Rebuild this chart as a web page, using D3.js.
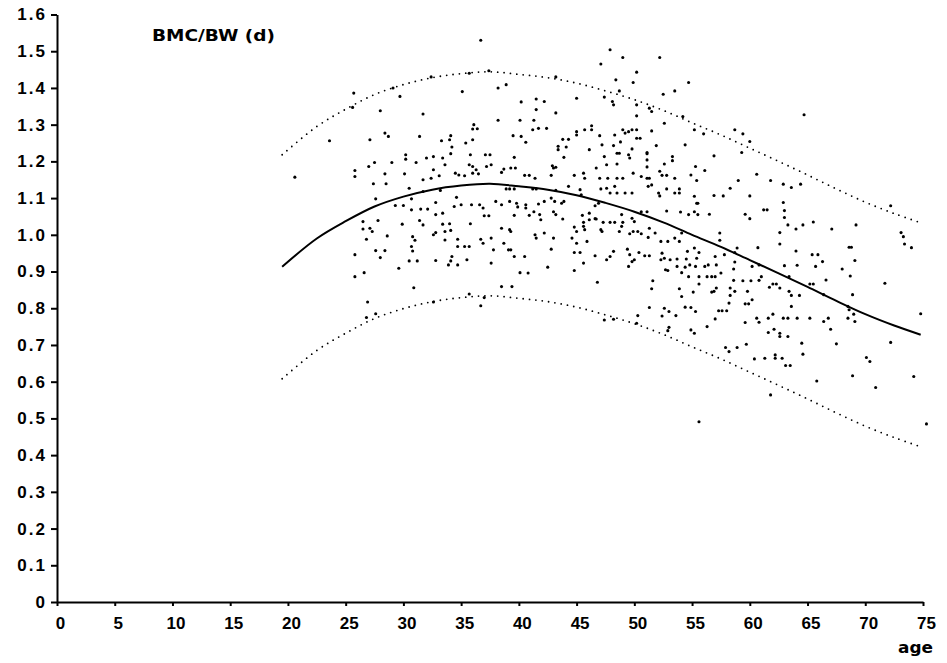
<!DOCTYPE html>
<html lang="en">
<head>
  <meta charset="UTF-8" />
  <title>BMC/BW by age</title>
  <script src="https://d3js.org/d3.v7.min.js"></script>
  <style>
    body {
      margin: 0;
      padding: 0;
      background: #fff;
    }
    svg {
      display: block;
      font-family: "DejaVu Sans", Arial, sans-serif;
      font-weight: bold;
    }
    .axis path, .axis line {
      stroke: #000;
      stroke-width: 2;
    }
    .axis text {
      fill: #000;
      font-size: 17px;
      font-weight: bold;
    }
  </style>
</head>
<body>
  <svg width="947" height="663"></svg>

  <script>
    // mean curve
    const curveAge = [19.5, 22.5, 25, 27.5, 30, 32.5, 35, 37.5, 40, 42.5, 45, 47.5, 50, 52.5, 55, 57.5, 60, 62.5, 65, 67.5, 70, 72.5, 74.8];
    const curveMean = [0.913, 0.99, 1.037, 1.077, 1.104, 1.123, 1.134, 1.139, 1.132, 1.123, 1.108, 1.087, 1.063, 1.034, 1.0, 0.967, 0.931, 0.895, 0.858, 0.82, 0.784, 0.753, 0.728];
    // dotted limits above / below the mean
    const curveUpper = [1.218, 1.295, 1.342, 1.382, 1.409, 1.428, 1.439, 1.444, 1.437, 1.428, 1.413, 1.392, 1.368, 1.339, 1.305, 1.272, 1.236, 1.2, 1.163, 1.125, 1.089, 1.058, 1.033];
    const curveLower = [0.608, 0.685, 0.732, 0.772, 0.799, 0.818, 0.829, 0.834, 0.827, 0.818, 0.803, 0.782, 0.758, 0.729, 0.695, 0.662, 0.626, 0.59, 0.553, 0.515, 0.479, 0.448, 0.423];

    const xTicks = d3.range(0, 76, 5);
    const yTicks = [0, 0.1, 0.2, 0.3, 0.4, 0.5, 0.6, 0.7, 0.8, 0.9, 1.0, 1.1, 1.2, 1.3, 1.4, 1.5, 1.6];

    // [age, BMC/BW]
    const points = [
      [36.7,1.53],[37.4,1.447],[35.7,1.44],[32.4,1.43],[29.1,1.40],[25.7,1.386],[35.1,1.39],[29.7,1.377],[25.6,1.347],[28.0,1.338],[31.7,1.329],
      [36.1,1.30],[36.4,1.289],[36.0,1.288],[23.6,1.256],[27.1,1.259],[28.4,1.277],[28.7,1.268],[31.4,1.268],[33.3,1.256],[34.0,1.259],[34.1,1.27],[35.4,1.25],[36.0,1.259],[34.2,1.239],[20.6,1.157],
      [30.2,1.218],[30.2,1.206],[31.1,1.197],[32.0,1.209],[32.6,1.213],[33.4,1.209],[34.1,1.221],[35.8,1.218],[37.1,1.218],[37.5,1.218],[27.0,1.186],[27.5,1.197],[25.8,1.175],[25.8,1.159],[29.0,1.197],[28.4,1.166],[30.1,1.166],[32.6,1.177],[33.6,1.191],
      [34.5,1.168],[34.8,1.163],[35.3,1.161],[36.0,1.168],[36.3,1.177],[36.5,1.166],[35.7,1.191],[36.0,1.186],[37.2,1.186],[37.6,1.191],
      [27.4,1.139],[28.5,1.139],[30.5,1.127],[31.7,1.150],[32.4,1.154],[33.1,1.161],[31.7,1.118],[27.6,1.098],[29.3,1.080],[30.0,1.080],[30.7,1.098],[32.8,1.088],[33.2,1.121],[34.6,1.102],
      [35.0,1.082],[35.9,1.082],[36.6,1.082],[36.9,1.073],[30.7,1.068],[31.5,1.070],[32.1,1.070],[33.4,1.059],[32.8,1.055],[34.4,1.077],[37.0,1.052],[37.4,1.052],
      [26.5,1.036],[26.5,1.016],[27.1,1.018],[27.3,1.009],[27.8,1.039],[29.9,1.029],[31.4,1.039],[31.7,1.027],[33.4,1.029],[34.0,1.030],[35.8,1.030],[26.8,0.988],[28.6,0.997],[30.8,0.995],[31.0,0.985],
      [32.6,1.000],[32.8,1.006],[33.6,1.009],[34.1,1.012],[33.6,0.986],[34.7,0.988],[34.7,0.968],[35.3,0.968],[35.7,0.968],[36.7,0.988],[36.9,0.977],[37.6,0.991],[37.8,0.959],
      [27.6,0.957],[28.4,0.957],[28.0,0.938],[25.8,0.946],[30.7,0.968],[30.8,0.956],[30.5,0.929],[31.2,0.929],[32.8,0.930],[34.2,0.941],[34.1,0.929],[33.9,0.918],[34.7,0.918],[35.5,0.932],[26.6,0.897],[29.6,0.909],[37.6,0.923],
      [25.8,0.886],[30.9,0.856],[26.9,0.817],[27.6,0.785],[26.8,0.775],[32.6,0.817],[35.7,0.839],[36.7,0.807],[37.0,0.829],
      [47.9,1.504],[49.0,1.483],[52.2,1.483],[47.1,1.465],[50.2,1.443],[43.2,1.430],[48.4,1.422],[49.9,1.415],[54.7,1.415],[38.2,1.400],[38.9,1.409],[48.7,1.392],[53.5,1.392],[52.5,1.383],[45.0,1.372],[47.4,1.375],[48.1,1.363],[48.2,1.354],[40.2,1.362],[41.5,1.370],[42.2,1.363],[41.5,1.341],[43.2,1.332],[50.2,1.354],[51.3,1.345],[51.5,1.336],[50.2,1.324],
      [38.2,1.312],[40.1,1.312],[41.3,1.312],[52.6,1.304],[54.2,1.322],[41.2,1.286],[41.7,1.290],[42.4,1.290],[45.0,1.281],[45.7,1.286],[46.3,1.297],[46.3,1.286],[49.0,1.286],[49.5,1.281],[49.8,1.286],[50.2,1.286],[51.5,1.283],[55.2,1.286],[56.0,1.275],
      [39.5,1.270],[40.2,1.268],[40.6,1.252],[43.8,1.260],[44.3,1.260],[45.0,1.272],[47.0,1.270],[48.3,1.272],[49.2,1.277],[50.2,1.263],[50.5,1.263],[43.4,1.241],[43.4,1.232],[44.1,1.239],
      [46.1,1.232],[47.2,1.245],[48.2,1.243],[48.8,1.253],[49.8,1.234],[51.1,1.224],[51.9,1.243],[54.4,1.245],[43.9,1.211],[39.6,1.211],[47.4,1.213],[48.5,1.222],[48.7,1.222],[49.5,1.218],[49.6,1.209],[51.1,1.221],[51.1,1.204],[53.3,1.213],[53.3,1.202],
      [47.6,1.191],[48.5,1.193],[46.7,1.182],[51.1,1.185],[52.6,1.193],[55.3,1.186],[56.1,1.175],[56.9,1.215],
      [38.5,1.170],[38.7,1.179],[39.3,1.182],[39.7,1.182],[40.5,1.162],[40.9,1.162],[41.4,1.154],[42.9,1.188],[43.0,1.182],[43.2,1.184],[42.8,1.162],[44.8,1.162],[45.6,1.168],[45.7,1.154],
      [47.0,1.154],[47.7,1.154],[48.5,1.154],[49.0,1.154],[49.9,1.168],[50.6,1.159],[51.1,1.154],[51.3,1.154],[52.2,1.173],[52.4,1.162],[52.8,1.162],[53.5,1.154],[54.9,1.163],[55.4,1.148],
      [44.3,1.132],[45.3,1.123],[45.4,1.109],[47.1,1.125],[47.6,1.127],[47.9,1.114],[48.3,1.132],[48.5,1.114],[49.2,1.114],[49.8,1.114],[51.2,1.132],[51.5,1.136],[52.1,1.114],[52.2,1.106],
      [52.8,1.125],[53.5,1.114],[53.9,1.125],[53.9,1.114],[55.2,1.105],[55.5,1.086],[56.9,1.107],[38.9,1.125],[39.2,1.125],[39.6,1.125],[41.2,1.125],[41.5,1.125],[43.2,1.121],
      [38.0,1.091],[38.5,1.082],[39.2,1.091],[39.8,1.086],[39.9,1.076],[40.6,1.082],[40.6,1.073],[41.7,1.084],[42.2,1.091],[42.8,1.100],[43.1,1.091],[43.7,1.086],[43.9,1.091],
      [41.3,1.063],[41.8,1.055],[43.0,1.063],[43.2,1.055],[43.8,1.043],[39.6,1.053],[40.9,1.053],[41.9,1.041],[45.5,1.053],[46.1,1.059],[46.6,1.079],[46.9,1.086],[46.1,1.041],[46.6,1.044],
      [47.3,1.034],[47.9,1.034],[48.3,1.034],[48.9,1.055],[49.0,1.034],[49.8,1.045],[50.0,1.036],[50.6,1.063],[51.1,1.063],[52.8,1.065],[54.0,1.062],[54.7,1.055],[55.2,1.063],[55.4,1.086],[55.5,1.055],[56.5,1.056],
      [38.5,1.018],[39.2,1.014],[39.3,1.009],[38.7,0.977],[39.1,0.959],[39.3,0.959],[39.6,0.941],[40.5,0.941],[41.4,1.000],[41.5,0.991],[42.2,1.005],[42.8,0.961],[43.0,0.991],[42.5,0.912],
      [44.8,1.021],[45.0,1.009],[45.6,1.034],[45.6,1.023],[45.7,1.014],[46.7,1.043],[47.1,1.014],[47.2,1.009],[44.6,0.991],[45.0,0.977],[45.9,0.982],[44.8,0.952],[45.3,0.952],[46.6,0.943],[45.6,0.923],[44.8,0.903],
      [48.2,0.955],[47.9,0.941],[47.6,0.932],[48.7,1.009],[48.9,1.023],[49.6,1.003],[49.9,1.009],[50.3,1.009],[50.6,1.003],[51.2,0.993],[51.3,1.018],[51.8,1.005],[52.3,0.982],[52.9,0.982],[53.5,0.991],[54.1,1.005],[53.9,0.982],
      [54.6,0.955],[55.2,0.964],[55.6,0.952],[49.4,0.961],[49.6,0.946],[49.8,0.927],[50.0,0.932],[50.4,0.952],[50.9,0.943],[51.3,0.943],[52.4,0.950],[52.6,0.936],[52.3,0.932],[53.1,0.932],
      [53.7,0.934],[54.5,0.934],[55.4,0.936],[53.7,0.914],[54.4,0.912],[54.8,0.918],[55.3,0.914],[56.1,0.914],[56.4,0.918],[57.0,0.941],[57.1,0.918],[49.5,0.914],[52.7,0.905],[52.9,0.903],[54.1,0.897],[40.1,0.897],[40.8,0.896],
      [38.5,0.859],[39.4,0.859],[46.8,0.871],[51.6,0.875],[51.5,0.853],[53.9,0.853],[54.1,0.832],[54.7,0.886],[55.6,0.886],[56.3,0.886],[56.7,0.886],[57.0,0.886],[55.1,0.844],[55.6,0.866],[56.7,0.844],[56.9,0.846],[57.1,0.855],
      [51.3,0.802],[52.6,0.800],[53.0,0.791],[52.4,0.779],[53.6,0.780],[54.4,0.803],[54.9,0.802],[55.3,0.791],[57.3,0.793],[50.3,0.780],[47.4,0.768],[48.2,0.770],[50.2,0.759],[53.0,0.748],[52.9,0.739],[54.9,0.741],[55.2,0.732],[56.3,0.750],[57.0,0.771],[55.6,0.491],
      [64.7,1.327],[58.7,1.286],[59.4,1.275],[60.0,1.254],[59.3,1.224],[60.6,1.165],[59.0,1.148],[61.8,1.148],[62.9,1.138],[63.6,1.129],[64.4,1.138],[58.3,1.127],[57.7,1.106],[60.0,1.106],
      [62.9,1.088],[63.0,1.066],[63.0,1.047],[61.2,1.068],[61.5,1.068],[59.6,1.056],[60.0,1.044],[63.3,1.027],[64.0,1.016],[64.6,1.027],[65.5,1.035],[67.1,1.016],[69.2,1.027],[72.2,1.079],
      [73.1,1.006],[73.3,0.995],[73.4,0.975],[74.0,0.965],[62.6,1.006],[62.6,0.975],[57.4,1.005],[57.4,0.985],[60.7,0.965],[58.9,0.964],[57.8,0.946],[58.7,0.952],[64.0,0.956],[68.6,0.966],[68.8,0.966],
      [65.4,0.946],[65.9,0.946],[66.3,0.927],[69.1,0.930],[58.7,0.926],[60.2,0.914],[60.8,0.918],[63.0,0.916],[64.1,0.917],[65.7,0.914],[58.6,0.907],[57.5,0.896],[68.0,0.907],
      [58.6,0.876],[59.4,0.875],[60.1,0.875],[60.8,0.876],[61.0,0.886],[63.4,0.886],[66.6,0.877],[68.7,0.888],[71.7,0.868],
      [58.3,0.855],[58.7,0.846],[58.3,0.835],[58.2,0.814],[58.0,0.793],[57.6,0.793],[59.8,0.846],[60.2,0.823],[59.6,0.812],[59.9,0.812],
      [61.7,0.857],[62.0,0.866],[62.3,0.866],[62.6,0.855],[63.4,0.846],[63.6,0.835],[64.3,0.835],[63.6,0.805],[65.2,0.866],[65.5,0.866],[66.4,0.837],
      [68.5,0.805],[68.6,0.796],[68.9,0.837],[69.0,0.784],[69.1,0.764],[74.8,0.785],[59.6,0.761],[60.6,0.773],[60.8,0.762],[61.6,0.773],[62.0,0.784],[62.9,0.773],[63.3,0.773],[64.1,0.773],[65.2,0.773],
      [66.4,0.764],[66.8,0.773],[67.0,0.743],[68.5,0.773],[62.1,0.743],[61.6,0.734],[62.6,0.732],[62.6,0.723],[63.3,0.723],[59.7,0.702],[57.9,0.693],[58.2,0.682],[58.9,0.693],[64.5,0.705],[67.5,0.703],[72.2,0.707],
      [60.4,0.662],[61.3,0.664],[62.2,0.673],[62.2,0.664],[62.8,0.664],[64.6,0.675],[63.1,0.644],[63.5,0.644],[70.1,0.666],[70.4,0.655],[65.8,0.602],[68.9,0.616],[70.9,0.584],[74.2,0.614],[61.8,0.564],[75.3,0.485]
    ];

    const svg = d3.select("svg");

    const x = d3.scaleLinear().domain([0, 75]).range([57, 923]);
    const y = d3.scaleLinear().domain([0, 1.6]).range([602, 14.5]);

    // axes
    const yAxis = d3.axisLeft(y)
      .tickValues(yTicks)
      .tickSize(6)
      .tickSizeOuter(0)
      .tickPadding(6)
      .tickFormat(d => d === 0 ? "0" : d3.format(".1f")(d));

    svg.append("g")
      .attr("class", "axis")
      .attr("transform", "translate(57,0)")
      .call(yAxis)
      .call(g => g.selectAll("text").attr("x", -10).style("letter-spacing", "2px"));

    const xAxis = d3.axisBottom(x)
      .tickValues(xTicks)
      .tickSize(4)
      .tickSizeOuter(0)
      .tickPadding(11);

    svg.append("g")
      .attr("class", "axis")
      .attr("transform", "translate(0,602)")
      .call(xAxis)
      .call(g => g.selectAll(".tick text").attr("dx", 3));

    // curves
    const line = d3.line()
      .x(d => x(d[0]))
      .y(d => y(d[1]))
      .curve(d3.curveCatmullRom);

    svg.append("path")
      .datum(d3.zip(curveAge, curveUpper))
      .attr("d", line)
      .attr("fill", "none")
      .attr("stroke", "#000")
      .attr("stroke-width", 1.8)
      .attr("stroke-linecap", "round")
      .attr("stroke-dasharray", "0 6.4");

    svg.append("path")
      .datum(d3.zip(curveAge, curveLower))
      .attr("d", line)
      .attr("fill", "none")
      .attr("stroke", "#000")
      .attr("stroke-width", 1.8)
      .attr("stroke-linecap", "round")
      .attr("stroke-dasharray", "0 6.4");

    svg.append("path")
      .datum(d3.zip(curveAge, curveMean))
      .attr("d", line)
      .attr("fill", "none")
      .attr("stroke", "#000")
      .attr("stroke-width", 2);

    // scatter
    svg.append("g")
      .selectAll("circle")
      .data(points)
      .join("circle")
      .attr("cx", d => x(d[0]))
      .attr("cy", d => y(d[1]))
      .attr("r", 1.55)
      .attr("fill", "#000");

    // labels
    svg.append("text")
      .attr("x", 152)
      .attr("y", 41)
      .attr("font-size", "15px")
      .attr("textLength", 123)
      .attr("lengthAdjust", "spacingAndGlyphs")
      .text("BMC/BW (d)");

    svg.append("text")
      .attr("x", 898)
      .attr("y", 653)
      .attr("font-size", "15px")
      .attr("textLength", 35)
      .attr("lengthAdjust", "spacingAndGlyphs")
      .text("age");
  </script>
</body>
</html>
